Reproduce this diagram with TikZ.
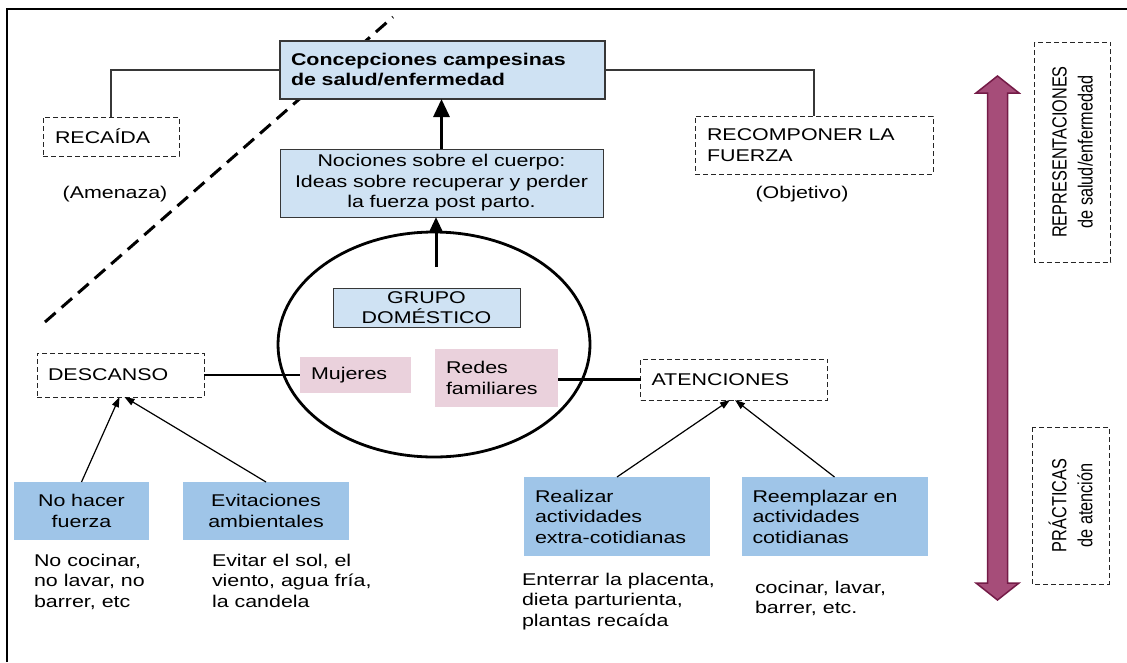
\documentclass[tikz,border=0pt]{standalone}
\usepackage{fontspec}
\setmainfont{Liberation Sans}[FakeStretch=1.26]
\newfontfamily\rotfont{Liberation Sans}[FakeStretch=0.794]
\usetikzlibrary{arrows.meta,shapes.geometric}
\definecolor{lightblue}{RGB}{207,226,243}
\definecolor{midblue}{RGB}{159,197,232}
\definecolor{pinkbox}{RGB}{234,209,220}
\definecolor{plum}{RGB}{166,77,121}
\definecolor{plumdark}{RGB}{116,27,71}
\definecolor{edgegray}{RGB}{55,55,55}
\begin{document}
\begin{tikzpicture}[x=1pt,y=-1pt,
  every node/.style={inner sep=0pt, outer sep=0pt, font=\fontsize{17}{20.5}\selectfont},
  topbox/.style={draw=edgegray, fill=lightblue, line width=2pt},
  notebox/.style={draw=edgegray, fill=lightblue, line width=0.9pt},
  dashbox/.style={draw=black!85, dash pattern=on 5pt off 3pt, line width=0.8pt},
  practice/.style={fill=midblue},
  member/.style={fill=pinkbox},
  plain/.style={align=left, anchor=north west},
  rottext/.style={rotate=90, align=center, font=\rotfont\fontsize{20.5}{26}\selectfont},
  link/.style={draw=edgegray, line width=1.4pt},
  boldlink/.style={draw=black, line width=2.4pt},
  thickarrow/.style={draw=black, line width=3pt, -{Triangle[length=18pt,width=16pt]}},
  midarrow/.style={draw=black, line width=3pt, -{Triangle[length=15pt,width=13pt]}},
  thinarrow/.style={draw=black, line width=1.2pt, -{Triangle[length=10pt,width=7pt]}},
  divider/.style={draw=black, line width=3pt, dash pattern=on 14pt off 8pt}
]
\useasboundingbox (0,0) rectangle (1127,662);

% frame (top and left)
\coordinate (f0) at (7,662);
\coordinate (f1) at (7,9);
\coordinate (f2) at (1127,9);
\draw[line width=2.8pt] (f0) -- (f1) -- (f2);

% diagonal dashed divider
\coordinate (d1) at (45,322);
\coordinate (d2) at (393,17);
\draw[divider] (d1) -- (d2);

% top concept
\node[topbox, minimum height=58pt, inner xsep=11pt, text width=303pt, align=left,
      font=\bfseries\fontsize{17}{20}\selectfont] (conc) at (442.5,70)
      {Concepciones campesinas\\de salud/enfermedad};

\node[notebox, minimum height=68pt, text width=323pt, align=center] (noc) at (441.5,183)
      {Nociones sobre el cuerpo:\\Ideas sobre recuperar y perder\\la fuerza post parto.};

\node[dashbox, minimum height=39pt, inner xsep=12pt, text width=112pt, align=left] (reca) at (111,136.5) {RECAÍDA};
\node[dashbox, minimum height=58pt, inner xsep=12pt, text width=214pt, align=left] (recomp) at (814,145) {RECOMPONER LA\\FUERZA};

\node (amen) at (115,194.5) {(Amenaza)};
\node (obj) at (802,194.5) {(Objetivo)};

\draw[link] (conc.west) -| (reca.north);
\draw[link] (conc.east) -| (recomp.north);
\draw[thickarrow] (noc.north) -- (noc.north |- conc.south);

% household
\node[draw, ellipse, line width=2.8pt, minimum width=312pt, minimum height=225pt] (hogar) at (434,344.5) {};
\node[notebox, minimum width=187pt, minimum height=39pt, align=center] (grupo) at (426.5,307.5) {GRUPO\\DOMÉSTICO};
\coordinate (gstart) at (436,267);
\draw[midarrow] (gstart) -- (gstart |- noc.south);

\node[member, minimum height=36pt, inner xsep=11pt, text width=89pt, align=left] (muj) at (355.5,375) {Mujeres};
\node[member, minimum height=58pt, inner xsep=11pt, text width=101pt, align=left] (redes) at (496.5,378) {Redes\\familiares};

\node[dashbox, minimum height=44pt, inner xsep=11pt, text width=145pt, align=left] (desc) at (120.5,375) {DESCANSO};
\node[dashbox, minimum height=41pt, inner xsep=11pt, text width=165pt, align=left] (aten) at (734,379.5) {ATENCIONES};

\draw[boldlink] (desc.east) -- (muj.west);
\draw[boldlink] (redes.east |- aten.west) -- (aten.west);

% practices
\node[practice, minimum height=58pt, text width=135pt, align=center] (nohacer) at (81.5,511) {No hacer\\fuerza};
\node[practice, minimum height=58pt, text width=166pt, align=center] (evit) at (266,511) {Evitaciones\\ambientales};
\node[practice, minimum height=79pt, inner xsep=11pt, text width=164pt, align=left] (real) at (617,516.5) {Realizar\\actividades\\extra-cotidianas};
\node[practice, minimum height=79pt, inner xsep=11pt, text width=164pt, align=left] (reemp) at (834.5,516.5) {Reemplazar en\\actividades\\cotidianas};

\draw[thinarrow] (nohacer.north) -- ([xshift=-1pt]desc.south);
\draw[thinarrow] (evit.north) -- ([xshift=4pt]desc.south);
\draw[thinarrow] (real.north) -- ([xshift=-4pt]aten.south);
\draw[thinarrow] (reemp.north) -- ([xshift=1pt]aten.south);

\node[plain] (t1) at (34,554) {No cocinar,\\no lavar, no\\barrer, etc};
\node[plain] (t2) at (212,554) {Evitar el sol, el\\viento, agua fría,\\la candela};
\node[plain] (t3) at (522,573) {Enterrar la placenta,\\dieta parturienta,\\plantas recaída};
\node[plain] (t4) at (755,581) {cocinar, lavar,\\barrer, etc.};

% big double arrow
\fill[plum, draw=plumdark, line width=1.5pt]
  (997.5,76) -- (1019,93) -- (1007.5,93) -- (1007.5,583) -- (1019,583) -- (997.5,600)
  -- (976,583) -- (987.5,583) -- (987.5,93) -- (976,93) -- cycle;

% level labels
\node[dashbox, rottext, minimum width=220pt, minimum height=76pt] (repr) at (1072.5,152)
  {REPRESENTACIONES\\de salud/enfermedad};
\node[dashbox, rottext, minimum width=157pt, minimum height=77pt] (prac) at (1070.5,505.5)
  {PRÁCTICAS\\de atención};
\end{tikzpicture}
\end{document}
